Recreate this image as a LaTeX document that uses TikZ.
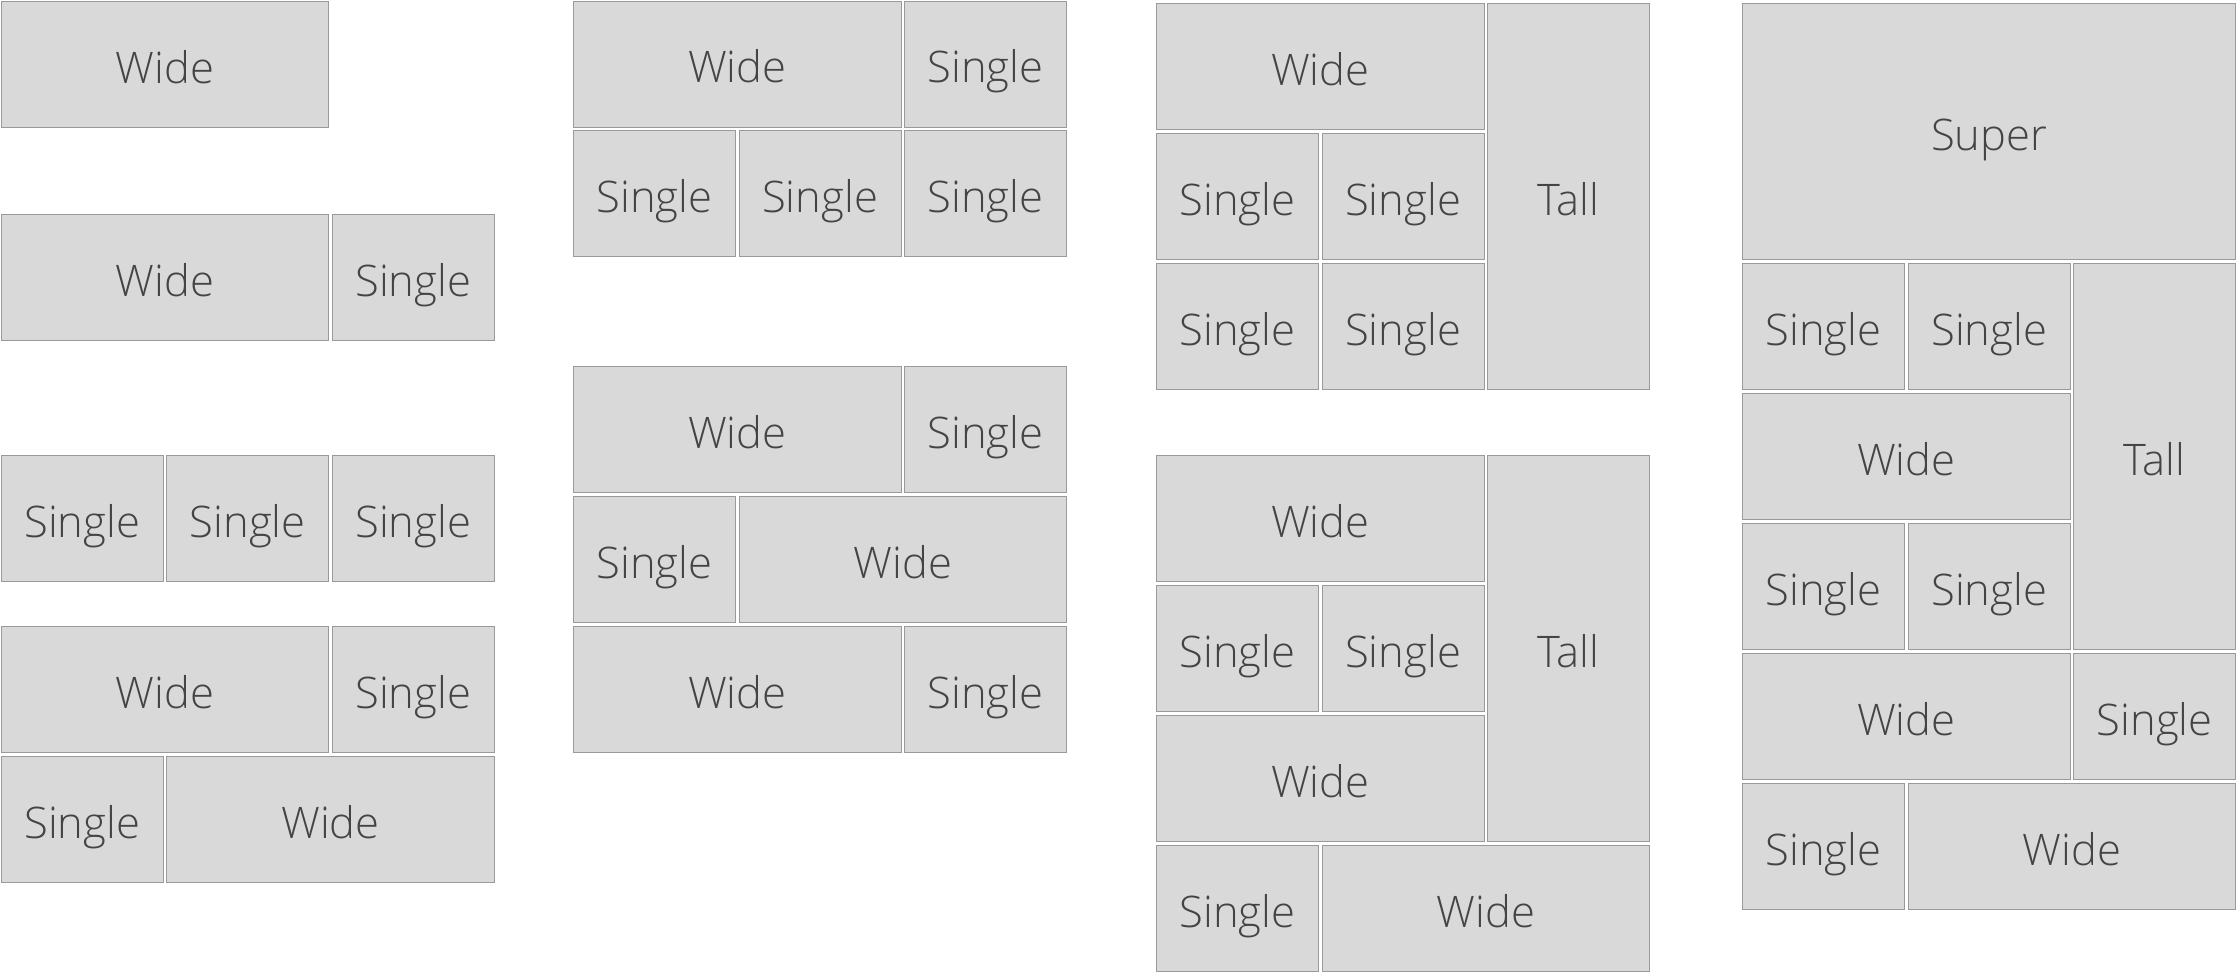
\documentclass[tikz,border=0pt]{standalone}
\usepackage{fontspec}
\setmainfont{Open Sans Light}
\usetikzlibrary{calc}
\definecolor{tilefill}{HTML}{D9D9D9}
\definecolor{tileline}{HTML}{9A9A9A}
\definecolor{tiletext}{HTML}{444444}
\tikzset{
  tile/.style={draw=tileline, fill=tilefill, text=tiletext, line width=1.2pt,
    inner sep=0pt, anchor=north west, text height=37pt, text depth=0pt,
    font=\fontsize{43.5}{52}\selectfont}
}
\makeatletter
\newcommand{\tile@single}[2]{\node[tile, minimum width=162pt, minimum height=126pt] (#2) at #1 {Single}}
\newcommand{\tile@wide}[2]{\node[tile, minimum width=327.5pt, minimum height=126pt] (#2) at #1 {Wide}}
\newcommand{\tile@tall}[2]{\node[tile, minimum width=162pt, minimum height=386pt] (#2) at #1 {Tall}}
\newcommand{\tile@super}[2]{\node[tile, minimum width=493pt, minimum height=256pt] (#2) at #1 {Super}}
\makeatother
\newcommand{\tilerow}[3]{
  \foreach \kind/\col in {#1} {
    \csname tile@\kind\endcsname{($ #2 + (\col*165.5,0) $)}{#3-\col};
  }
}

\begin{document}
\begin{tikzpicture}[x=1pt,y=-1pt]
  \useasboundingbox (0,0) rectangle (2238,973);
  \tilerow{wide/0}{(0.6,1)}{a}
  \tilerow{wide/0,single/2}{(0.6,214)}{b}
  \tilerow{single/0,single/1,single/2}{(0.6,455)}{c}
  \tilerow{wide/0,single/2}{(0.6,626)}{d1}
  \tilerow{single/0,wide/1}{(0.6,756)}{d2}
  \tilerow{wide/0,single/2}{(573,0.6)}{e1}
  \tilerow{single/0,single/1,single/2}{(573,130)}{e2}
  \tilerow{wide/0,single/2}{(573,366)}{f1}
  \tilerow{single/0,wide/1}{(573,496)}{f2}
  \tilerow{wide/0,single/2}{(573,626)}{f3}
  \tilerow{wide/0,tall/2}{(1156,3)}{g1}
  \tilerow{single/0,single/1}{(1156,133)}{g2}
  \tilerow{single/0,single/1}{(1156,263)}{g3}
  \tilerow{wide/0,tall/2}{(1156,455)}{h1}
  \tilerow{single/0,single/1}{(1156,585)}{h2}
  \tilerow{wide/0}{(1156,715)}{h3}
  \tilerow{single/0,wide/1}{(1156,845)}{h4}
  \tilerow{super/0}{(1742,3)}{k1}
  \tilerow{single/0,single/1,tall/2}{(1742,263)}{k2}
  \tilerow{wide/0}{(1742,393)}{k3}
  \tilerow{single/0,single/1}{(1742,523)}{k4}
  \tilerow{wide/0,single/2}{(1742,653)}{k5}
  \tilerow{single/0,wide/1}{(1742,783)}{k6}
\end{tikzpicture}
\end{document}
